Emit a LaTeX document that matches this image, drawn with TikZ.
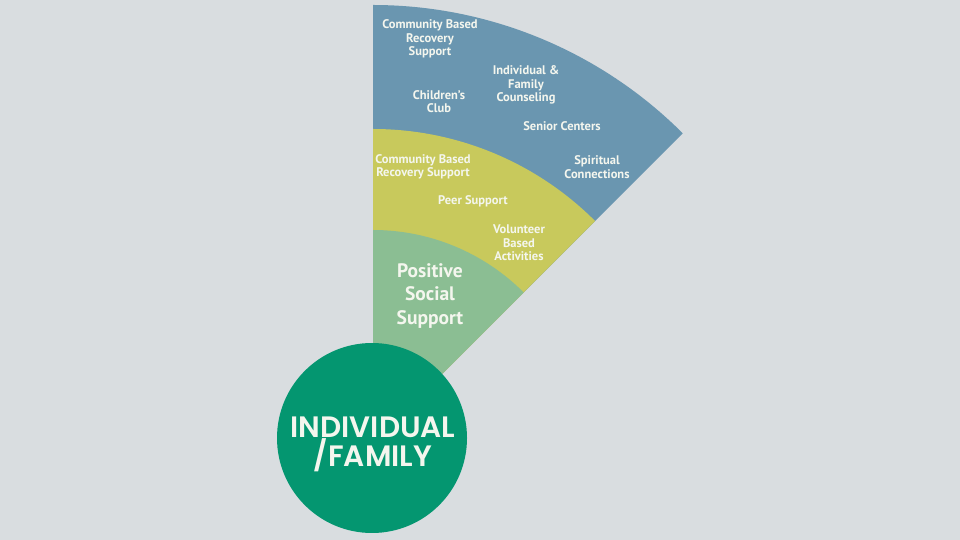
\documentclass[tikz,border=0pt]{standalone}
\usepackage{fontspec}
\setmainfont{PT Sans}
\newfontfamily\circfont{Poppins}[UprightFont=* SemiBold]
\definecolor{bgc}{HTML}{D9DDE0}
\definecolor{bandblue}{HTML}{6A96B0}
\definecolor{bandyellow}{HTML}{C8C95C}
\definecolor{bandgreen}{HTML}{8BBE93}
\definecolor{corec}{HTML}{049670}
\definecolor{txt}{HTML}{F4F6EE}
\begin{document}
\begin{tikzpicture}[x=1pt,y=1pt,
  lbl/.style={text=txt,font=\bfseries\fontsize{12.5}{13.6}\selectfont,align=center,inner sep=0pt},
  biglbl/.style={text=txt,font=\bfseries\fontsize{19.5}{23.5}\selectfont,align=center,inner sep=0pt},
  corelbl/.style={text=txt,font=\circfont\fontsize{29.5}{28}\selectfont,align=center,inner sep=0pt}]
\fill[bgc] (0,0) rectangle (960,540);
\useasboundingbox (0,0) rectangle (960,540);
\coordinate (apex) at (373,97);
\fill[bandblue] (apex) -- ++(90:438) arc[start angle=90,end angle=45,radius=438] -- cycle;
\fill[bandyellow] (apex) -- ++(90:314) arc[start angle=90,end angle=45,radius=314] -- cycle;
\fill[bandgreen] (apex) -- ++(90:213) arc[start angle=90,end angle=45,radius=213] -- cycle;
\node[circle,fill=corec,minimum size=190pt,inner sep=0pt] (core) at (372,102) {};
\node[corelbl] (coretxt) at (373,95.5) {INDIVIDUAL\\/FAMILY};
% blue band
\node[lbl] (cbrs1) at (430,501) {Community Based\\Recovery\\Support};
\node[lbl] (iafc) at (526,455) {Individual \&\\Family\\Counseling};
\node[lbl] (cc) at (439,438.5) {Children’s\\Club};
\node[lbl] (sc) at (562,414) {Senior Centers};
\node[lbl] (spc) at (597,373) {Spiritual\\Connections};
% yellow band
\node[lbl] (cbrs2) at (423,373) {Community Based\\Recovery Support};
\node[lbl] (ps) at (473,339) {Peer Support};
\node[lbl] (vba) at (519,297) {Volunteer\\Based\\Activities};
% green band
\node[biglbl] (pss) at (430,244) {Positive\\Social\\Support};
\end{tikzpicture}
\end{document}
